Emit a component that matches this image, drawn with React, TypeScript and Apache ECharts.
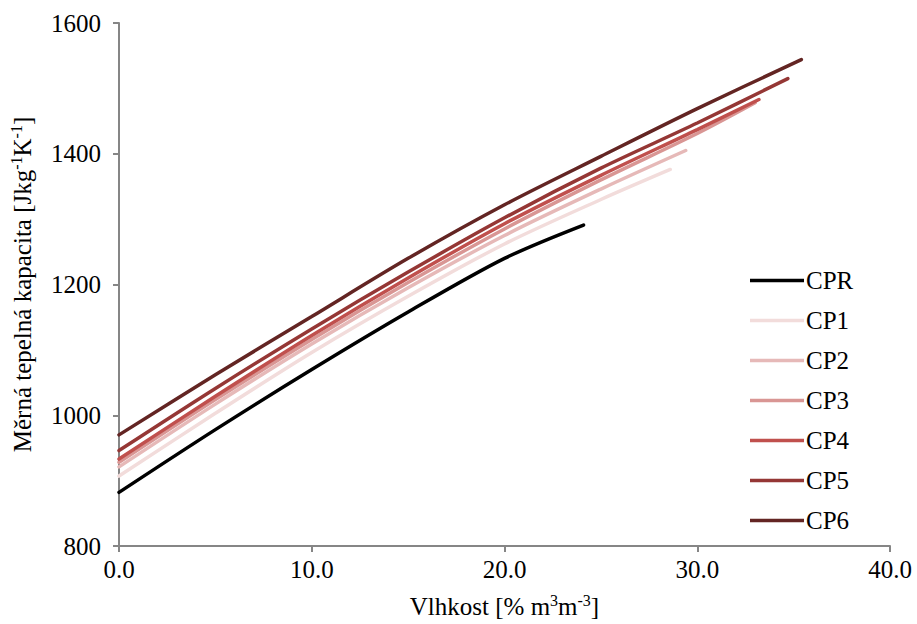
import React, { useEffect, useRef } from "react";
import * as echarts from "echarts";

const seriesNames = ["CPR", "CP1", "CP2", "CP3", "CP4", "CP5", "CP6"];
const seriesColors = ["#000000", "#f2dcdb", "#e6b9b8", "#d99694", "#c0504d", "#953735", "#632523"];

const xCPR = [0, 5, 10, 15, 20, 24.1];
const yCPR = [882, 978, 1070, 1158, 1240, 1291];
const xCP1 = [0, 5, 10, 15, 20, 25, 28.6];
const yCP1 = [907, 1003, 1096, 1182, 1262, 1330, 1376];
const xCP2 = [0, 5, 10, 15, 20, 25, 29.4];
const yCP2 = [921, 1017, 1109, 1195, 1275, 1346, 1405];
const xCP3 = [0, 5, 10, 15, 20, 25, 30, 33.0];
const yCP3 = [928, 1024, 1116, 1203, 1285, 1360, 1431, 1478];
const xCP4 = [0, 5, 10, 15, 20, 25, 30, 33.2];
const yCP4 = [933, 1029, 1122, 1210, 1293, 1367, 1437, 1483];
const xCP5 = [0, 5, 10, 15, 20, 25, 30, 34.7];
const yCP5 = [946, 1041, 1132, 1219, 1302, 1378, 1447, 1515];
const xCP6 = [0, 5, 10, 15, 20, 25, 30, 35.4];
const yCP6 = [970, 1062, 1151, 1240, 1322, 1396, 1469, 1544];

const seriesX = [xCPR, xCP1, xCP2, xCP3, xCP4, xCP5, xCP6];
const seriesY = [yCPR, yCP1, yCP2, yCP3, yCP4, yCP5, yCP6];

const FONT = "'Liberation Serif', 'Times New Roman', serif";
const FS = 25;

export default function App() {
  const ref = useRef<HTMLDivElement>(null);
  useEffect(() => {
    if (!ref.current) return;
    const chart = echarts.init(ref.current, undefined, { renderer: "svg" });
    const axisLine = { show: true, lineStyle: { color: "#868686", width: 2 } };
    const supRich = {
      sup: { fontFamily: FONT, fontSize: 16, color: "#000", verticalAlign: "top", padding: [0, 0, 13, 0] },
    };
    chart.setOption({
      animation: false,
      backgroundColor: "#ffffff",
      textStyle: { fontFamily: FONT },
      grid: { left: 118, right: 27, top: 23, bottom: 76 },
      legend: {
        orient: "vertical",
        left: 745,
        top: 263,
        itemWidth: 54,
        itemHeight: 14,
        itemGap: 15,
        textStyle: { fontFamily: FONT, fontSize: FS, color: "#000", lineHeight: 25, padding: [0, 0, 0, -3] },
        data: seriesNames.map((n) => ({ name: n, icon: "path://M0,0 L54,0 L54,3.5 L0,3.5 Z" })),
      },
      xAxis: {
        type: "value",
        min: 0,
        max: 40,
        interval: 10,
        axisLine,
        axisTick: { show: true, length: 6, lineStyle: { color: "#868686", width: 2 } },
        splitLine: { show: false },
        axisLabel: {
          fontFamily: FONT,
          fontSize: FS,
          color: "#000",
          margin: 11,
          formatter: (v: number) => v.toFixed(1),
        },
        name: "Vlhkost [% m{sup|3}m{sup|-3}]",
        nameLocation: "middle",
        nameGap: 46,
        nameTextStyle: { fontFamily: FONT, fontSize: FS, color: "#000", rich: supRich },
      },
      yAxis: {
        type: "value",
        min: 800,
        max: 1600,
        interval: 200,
        axisLine,
        axisTick: { show: true, length: 6, lineStyle: { color: "#868686", width: 2 } },
        splitLine: { show: false },
        axisLabel: {
          fontFamily: FONT,
          fontSize: FS,
          color: "#000",
          margin: 18,
          formatter: (v: number) => String(v),
        },
        name: "Měrná tepelná kapacita [Jkg{sup|-1}K{sup|-1}]",
        nameLocation: "middle",
        nameRotate: 90,
        nameGap: 82,
        nameTextStyle: { fontFamily: FONT, fontSize: FS, color: "#000", rich: supRich },
      },
      series: seriesNames.map((name, i) => ({
        name,
        type: "line",
        showSymbol: false,
        symbol: "none",
        smooth: 0.3,
        color: seriesColors[i],
        lineStyle: { color: seriesColors[i], width: 3.5, cap: "round" },
        data: seriesX[i].map((x, j) => [x, seriesY[i][j]]),
        z: i + 2,
      })),
    });
    return () => chart.dispose();
  }, []);
  return <div ref={ref} style={{ width: 917, height: 624, position: "absolute", left: 0, top: 0 }} />;
}
